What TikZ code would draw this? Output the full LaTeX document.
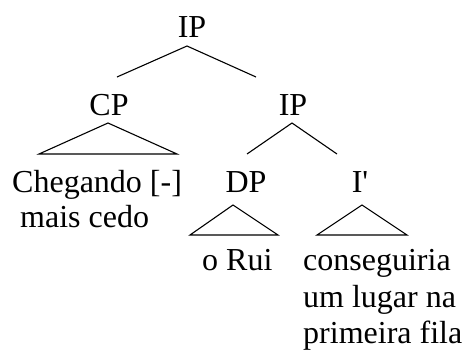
\documentclass[tikz,border=0pt]{standalone}
\usepackage{fontspec}
\setmainfont{Liberation Serif}[Ligatures={NoCommon}]
\begin{document}
\begin{tikzpicture}[x=1pt,y=-1pt,
  lbl/.style={inner sep=0pt,anchor=base,font=\fontsize{32}{37}\selectfont},
  lbll/.style={inner sep=0pt,anchor=base west,font=\fontsize{32}{37}\selectfont},
  edge/.style={line width=1.1pt,line join=miter}]
\useasboundingbox (0,0) rectangle (464,351);
% labels
\node[lbl] (ip1) at (192,37) {IP};
\node[lbl] (cp) at (109,115) {CP};
\node[lbl] (ip2) at (293,115) {IP};
\node[lbl] (dp) at (246,192) {DP};
\node[lbl] (ib) at (360,192) {I\textquotesingle};
\node[lbll] (cheg) at (12,192) {Chegando [-]};
\node[lbll] (mais) at (20,227) {mais cedo};
\node[lbll] (rui) at (202,270) {o Rui};
\node[lbll] (c1) at (303,270) {conseguiria};
\node[lbll] (c2) at (303,307) {um lugar na};
\node[lbll] (c3) at (303,343) {primeira fila};
% branch points
\coordinate (a1) at (187,46);
\coordinate (a1l) at (117,77);
\coordinate (a1r) at (256,77);
\coordinate (a2) at (292,123);
\coordinate (a2l) at (247,154);
\coordinate (a2r) at (337,154);
% triangles
\coordinate (t1) at (108,123);
\coordinate (t1l) at (39,154);
\coordinate (t1r) at (177,154);
\coordinate (t2) at (233,205);
\coordinate (t2l) at (190,235);
\coordinate (t2r) at (278,235);
\coordinate (t3) at (362,205);
\coordinate (t3l) at (317,235);
\coordinate (t3r) at (407,235);
\draw[edge] (a1l) -- (a1) -- (a1r);
\draw[edge] (a2l) -- (a2) -- (a2r);
\draw[edge] (t1l) -- (t1) -- (t1r) -- cycle;
\draw[edge] (t2l) -- (t2) -- (t2r) -- cycle;
\draw[edge] (t3l) -- (t3) -- (t3r) -- cycle;
\end{tikzpicture}
\end{document}
